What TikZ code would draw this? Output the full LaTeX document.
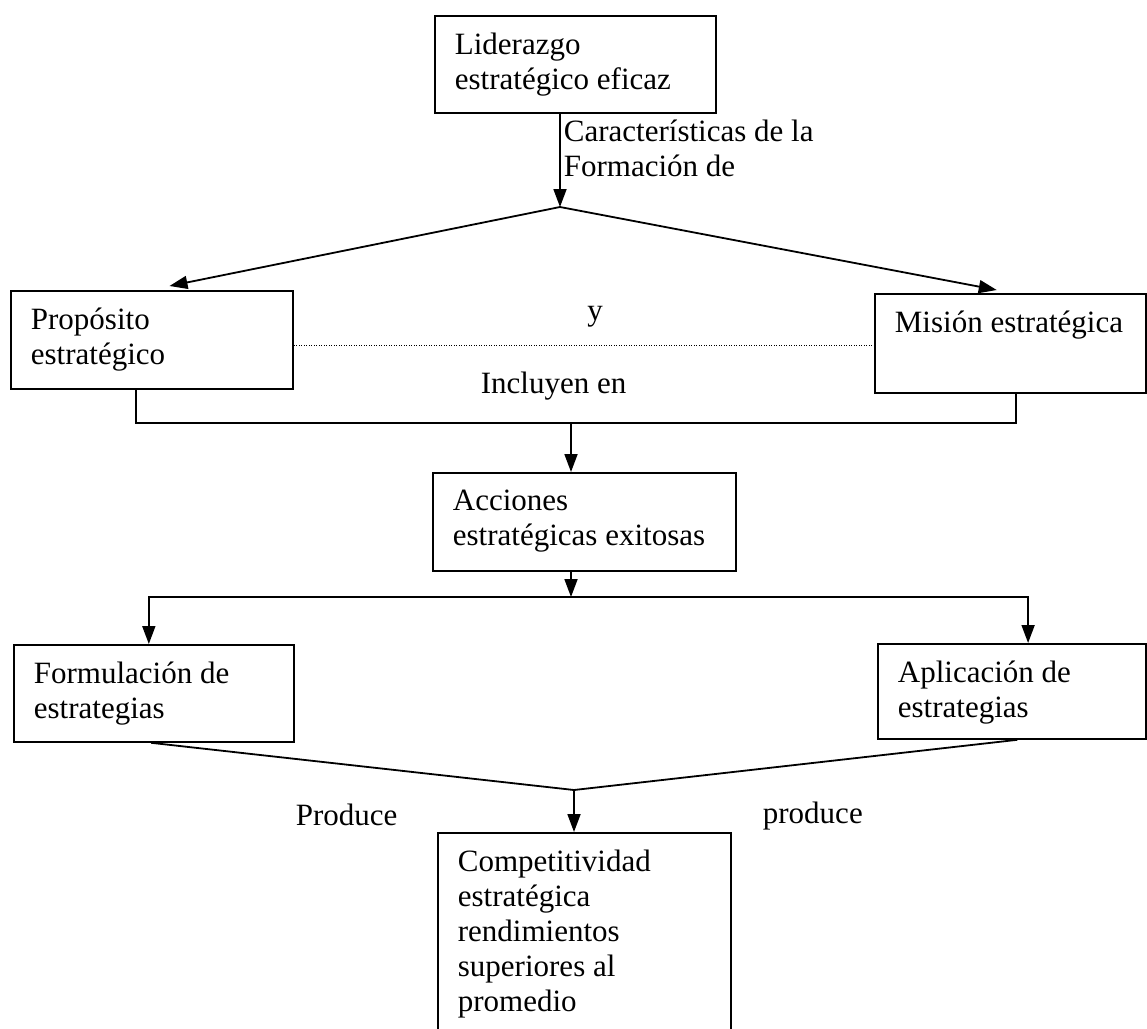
\documentclass[tikz,border=0pt]{standalone}
\usepackage{fontspec}
\setmainfont{Liberation Serif}
\usetikzlibrary{arrows.meta,calc}
\newcommand\diagfont{\fontsize{31pt}{35pt}\selectfont}
% #1 name, #2 top-left corner, #3 width, #4 height, #5 text
\newcommand\framedtext[5]{%
  \node[frame, minimum width=#3, minimum height=#4] (#1) at #2 {};
  \node[boxtext] (#1-text) at ($(#1.north west)+(20,17)$) {#5};
}
\begin{document}
\begin{tikzpicture}[x=1pt,y=-1pt,
  font=\diagfont,
  line width=1.8pt,
  frame/.style={draw, rectangle, anchor=north west, inner sep=0pt},
  boxtext/.style={anchor=north west, align=left, inner sep=0pt},
  arr/.style={-{Triangle[length=18pt,width=13pt]}},
  lbl/.style={inner sep=0pt},
  link/.style={dash pattern=on 1pt off 1.5pt, line width=0.9pt}
]
\useasboundingbox (0,0) rectangle (1147,1028);
\clip (0,0) rectangle (1147,1028);

% boxes
\framedtext{lid}{(434,15)}{281pt}{97pt}{Liderazgo\\estratégico eficaz}
\framedtext{prop}{(10,290)}{282pt}{98pt}{Propósito\\estratégico}
\framedtext{mis}{(874,293)}{271pt}{99pt}{Misión estratégica}
\framedtext{acc}{(432,472)}{303pt}{98pt}{Acciones\\estratégicas exitosas}
\framedtext{form}{(13,644)}{280pt}{97pt}{Formulación de\\estrategias}
\framedtext{apl}{(877,643)}{268pt}{95pt}{Aplicación de\\estrategias}
\framedtext{comp}{(437,832)}{293pt}{230pt}%
  {Competitividad\\estratégica\\rendimientos\\superiores al\\promedio}

% labels
\node[lbl, anchor=north west, align=left] (carac) at (563,119)
  {Características de la\\Formación de};
\node[lbl, anchor=base] (yy) at (595,320) {y};
\node[lbl, anchor=base west] (incl) at (480,393) {Incluyen en};
\node[lbl, anchor=base west] (prod1) at (295,825) {Produce};
\node[lbl, anchor=base west] (prod2) at (762,823) {produce};

% leadership splits into purpose and mission
\coordinate (top) at (560,207);
\draw[arr] (top |- lid.south) -- (top);
\draw[arr] (top) -- ($(prop.north west)!0.562!(prop.north east)+(0,-4)$);
\draw[arr] (top) -- ($(mis.north west)!0.450!(mis.north east)+(0,-3)$);

% dotted link between purpose and mission
\coordinate (yline) at (0,345);
\draw[link] (prop.east |- yline) -- (mis.west |- yline);

% both feed the strategic actions
\coordinate (j1) at (571,423);
\draw ($(prop.south west)!0.443!(prop.south east)$) |- (j1)
      -| ($(mis.south west)!0.520!(mis.south east)$);
\draw[arr] (j1) -- (j1 |- acc.north);

% actions branch into formulation and application
\coordinate (j2) at (571,597);
\draw[arr] (j2 |- acc.south) -- (j2);
\draw[arr] (j2) -| ($(form.north west)!0.482!(form.north east)$);
\draw[arr] (j2) -| ($(apl.north west)!0.560!(apl.north east)$);

% both produce competitiveness
\coordinate (bot) at (574,790);
\draw ($(form.south west)!0.49!(form.south east)$) -- (bot)
      -- ($(apl.south west)!0.52!(apl.south east)$);
\draw[arr] (bot) -- (bot |- comp.north);
\end{tikzpicture}
\end{document}
